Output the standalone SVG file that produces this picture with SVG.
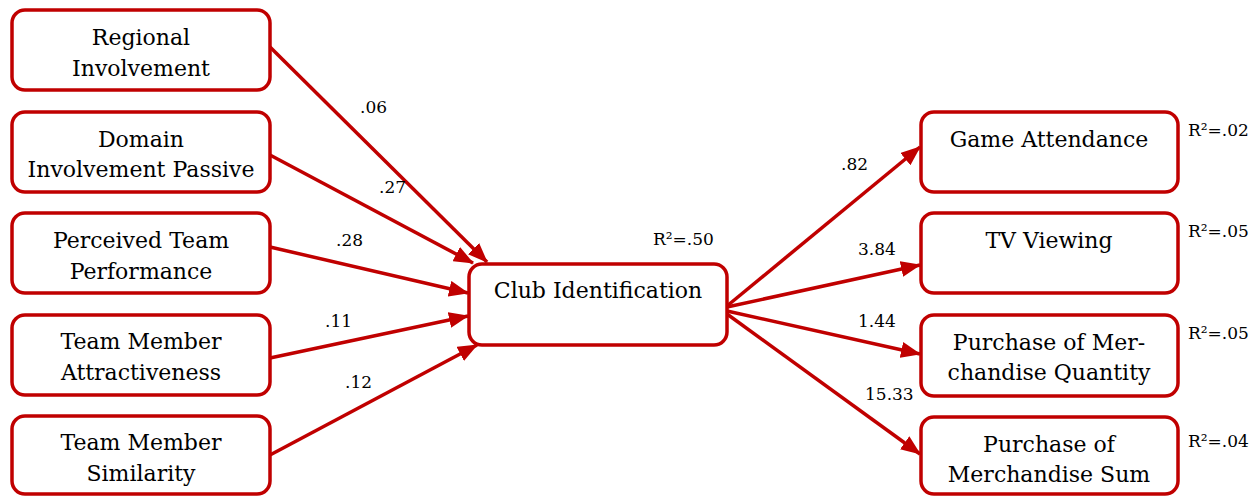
<svg xmlns="http://www.w3.org/2000/svg" width="1259" height="496" viewBox="0 0 1259 496">
<style>
.box{fill:#fff;stroke:#c00000;stroke-width:3.5}
.t{font-family:"DejaVu Serif","Liberation Serif",serif;font-size:22px;fill:#000;text-anchor:middle}
.l{font-family:"DejaVu Serif","Liberation Serif",serif;font-size:17px;fill:#000}
.c{stroke:#c00000;stroke-width:3.5;fill:none;marker-end:url(#ah)}
</style>
<defs>
<marker id="ah" markerUnits="userSpaceOnUse" markerWidth="20" markerHeight="16" viewBox="0 0 20 16" refX="19" refY="8" orient="auto">
<path d="M0,0 L20,8 L0,16 Z" fill="#c00000"/>
</marker>
</defs>
<g id="connectors">
<line class="c" x1="270" y1="47" x2="487" y2="262"/>
<line class="c" x1="270" y1="155" x2="473" y2="263"/>
<line class="c" x1="270" y1="247" x2="468" y2="293"/>
<line class="c" x1="270" y1="358" x2="468" y2="316"/>
<line class="c" x1="270" y1="455" x2="477" y2="345"/>
<line class="c" x1="727" y1="306" x2="920" y2="147"/>
<line class="c" x1="727" y1="307" x2="920" y2="265"/>
<line class="c" x1="727" y1="311" x2="920" y2="354"/>
<line class="c" x1="727" y1="314" x2="920" y2="454"/>
</g>
<g id="labels">
<text class="l" x="360" y="113">.06</text>
<text class="l" x="379" y="193">.27</text>
<text class="l" x="336" y="246">.28</text>
<text class="l" x="325" y="327">.11</text>
<text class="l" x="345" y="388">.12</text>
<text class="l" x="653" y="245">R²=.50</text>
<text class="l" x="841" y="170">.82</text>
<text class="l" x="858" y="255">3.84</text>
<text class="l" x="858" y="327">1.44</text>
<text class="l" x="865" y="400">15.33</text>
<text class="l" x="1188" y="136">R²=.02</text>
<text class="l" x="1188" y="237">R²=.05</text>
<text class="l" x="1188" y="339">R²=.05</text>
<text class="l" x="1188" y="447">R²=.04</text>
</g>
<g id="regional"><rect class="box" x="12" y="10" width="258" height="80" rx="13"/><text class="t" x="141" y="45">Regional</text><text class="t" x="141" y="76">Involvement</text></g>
<g id="domain"><rect class="box" x="12" y="112" width="258" height="80" rx="13"/><text class="t" x="141" y="147">Domain</text><text class="t" x="141" y="177">Involvement Passive</text></g>
<g id="perceived"><rect class="box" x="12" y="213" width="258" height="80" rx="13"/><text class="t" x="141" y="248">Perceived Team</text><text class="t" x="141" y="279">Performance</text></g>
<g id="attractiveness"><rect class="box" x="12" y="315" width="258" height="80" rx="13"/><text class="t" x="141" y="349">Team Member</text><text class="t" x="141" y="380">Attractiveness</text></g>
<g id="similarity"><rect class="box" x="12" y="416" width="258" height="78" rx="13"/><text class="t" x="141" y="450">Team Member</text><text class="t" x="141" y="481">Similarity</text></g>
<g id="club"><rect class="box" x="469" y="264" width="258" height="81" rx="13"/><text class="t" x="598" y="298">Club Identification</text></g>
<g id="attendance"><rect class="box" x="921" y="112" width="257" height="80" rx="13"/><text class="t" x="1049" y="147">Game Attendance</text></g>
<g id="tv"><rect class="box" x="921" y="213" width="257" height="80" rx="13"/><text class="t" x="1049" y="248">TV Viewing</text></g>
<g id="quantity"><rect class="box" x="921" y="315" width="257" height="81" rx="13"/><text class="t" x="1049" y="350">Purchase of Mer-</text><text class="t" x="1049" y="380">chandise Quantity</text></g>
<g id="sum"><rect class="box" x="921" y="417" width="257" height="77" rx="13"/><text class="t" x="1049" y="452">Purchase of</text><text class="t" x="1049" y="482">Merchandise Sum</text></g>
</svg>
